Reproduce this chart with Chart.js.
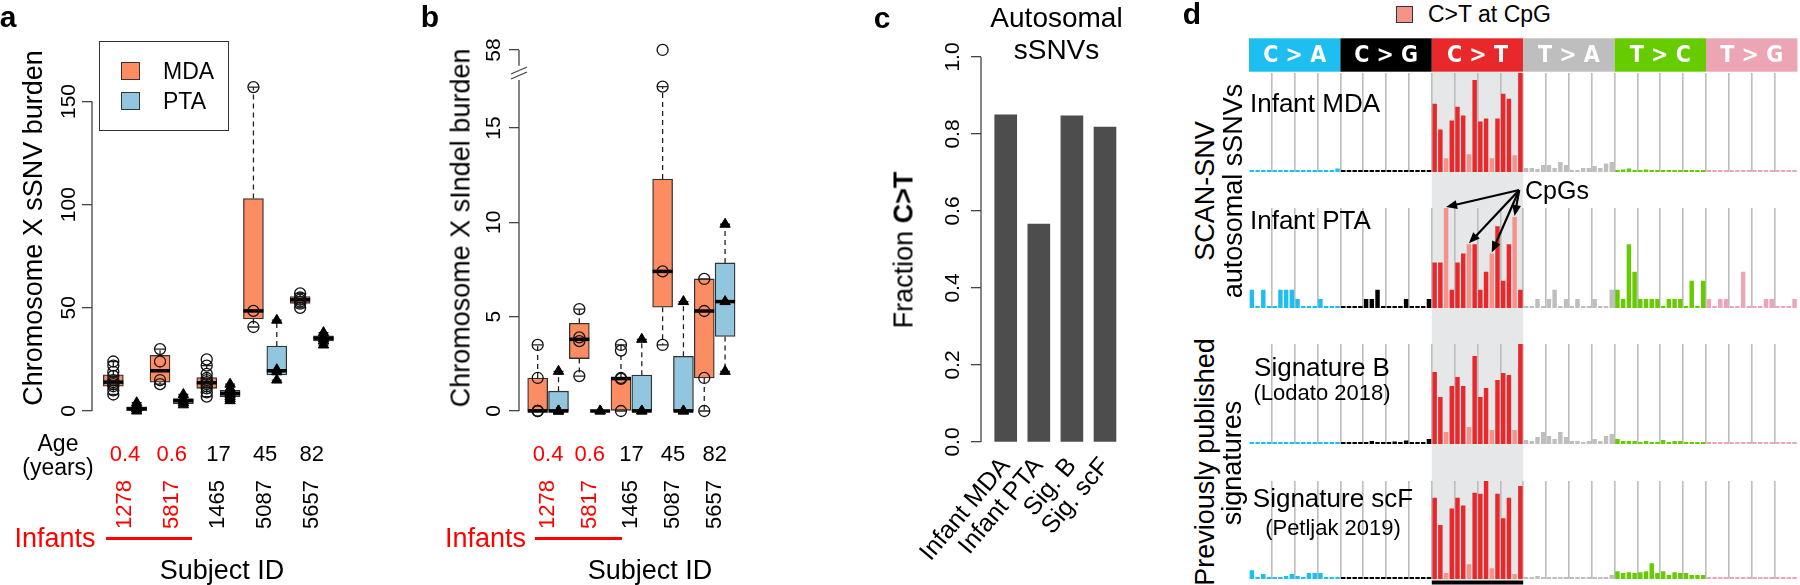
<!DOCTYPE html>
<html>
<head>
<meta charset="utf-8">
<script src="https://cdn.jsdelivr.net/npm/chart.js@4/dist/chart.umd.min.js"></script>
<style>
body { margin: 0; width: 1800px; height: 585px; background: #fff; position: relative; overflow: hidden; font-family: "Liberation Sans", Arial, sans-serif; }
canvas { position: absolute; }
.t { position: absolute; white-space: nowrap; line-height: 1; }
</style>
</head>
<body>
<canvas id="cA" width="400" height="585" style="left:0;top:0"></canvas>
<canvas id="cB" width="400" height="585" style="left:400px;top:0"></canvas>
<canvas id="cC" width="310" height="585" style="left:830px;top:0"></canvas>
<canvas id="d1" width="560" height="134" style="left:1240px;top:38px"></canvas>
<canvas id="d2" width="560" height="136" style="left:1240px;top:172px"></canvas>
<canvas id="d3" width="560" height="136" style="left:1240px;top:308px"></canvas>
<canvas id="d4" width="560" height="141" style="left:1240px;top:444px"></canvas>
<script>
Chart.defaults.font.family = "'Liberation Sans', Arial, sans-serif";
Chart.defaults.color = '#000';

// ---- panels a / b : subjects ----
const subjects = ['1278', '5817', '1465', '5087', '5657'];
const ages = ['0.4', '0.6', '17', '45', '82'];
const infant = [true, true, false, false, false];
const pairPos = [0.5, 2.5, 4.5, 6.5, 8.5];

// panel a, chrX sSNV burden; boxes ordered MDA, PTA for each subject
const snvLow  = [8, 0, 13, 3, 7, 5, 40.7, 15, 50, 32];
const snvQ1   = [12, 0, 14, 3.5, 11, 7, 44.6, 17.5, 52.2, 34];
const snvMed  = [14, 1, 19.5, 5, 13.7, 8.5, 48.5, 19.5, 53.9, 35.3];
const snvQ3   = [17.5, 2, 27, 6, 16.2, 10, 103, 31.5, 55.5, 36.4];
const snvHigh = [24, 4, 30, 8, 22, 13, 157, 44, 57, 38];
const snvPoints = [
  [8, 10, 12, 13, 14, 15, 17, 19, 22, 24], [0, 1, 2, 3, 4],
  [13, 15, 24, 30], [3, 4, 5, 6, 8],
  [7, 9, 11, 12, 13, 14, 15, 16, 18, 22, 25], [5, 6, 7, 8, 9, 10, 11, 13],
  [40.7, 48.5, 157], [15, 19, 20, 44],
  [50, 52, 53, 54, 55, 57], [32, 34, 35, 36, 38]
];
const snvTicks = [0, 50, 100, 150];

// panel b, chrX sIndel burden (axis broken between 15 and 58)
const indelLow  = [0, 0, 1.85, 0, 0, 0, 3.5, 0, 0, 2.1];
const indelQ1   = [0, 0, 2.78, 0, 0, 0, 5.5, 0, 1.75, 3.95];
const indelMed  = [0, 0, 3.8, 0, 1.72, 0, 7.4, 0, 5.3, 5.8];
const indelQ3   = [1.75, 1.05, 4.65, 0, 1.75, 1.9, 12.3, 2.9, 7.0, 7.85];
const indelHigh = [3.5, 2.1, 5.4, 0, 3.5, 3.8, 17.2, 5.8, 7.0, 9.9];
const indelPoints = [
  [0, 0, 0, 1.75, 3.5], [0, 0, 0, 2.1],
  [1.85, 3.7, 3.9, 5.4], [0, 0],
  [0, 1.7, 1.75, 3.2, 3.5], [0, 0, 3.8],
  [3.5, 7.4, 17.2, 58], [0, 0, 5.8],
  [0, 1.75, 5.3, 7.0], [2.1, 5.8, 9.9]
];
const indelTicks = [0, 5, 10, 15, 58];

// panel c
const sigNames = ['Infant MDA', 'Infant PTA', 'Sig. B', 'Sig. scF'];
const fracCT = [0.85, 0.566, 0.847, 0.818];
const fracTicks = [0, 0.2, 0.4, 0.6, 0.8, 1.0];

// panel d, 96-channel spectra (16 trinucleotide contexts per type)
const mutTypes = ['C>A', 'C>G', 'C>T', 'T>A', 'T>C', 'T>G'];
const mdaCA = [0.01, 0.005, 0.01, 0.01, 0.005, 0.01, 0.01, 0.01, 0.01, 0.01, 0.01, 0.01, 0.01, 0.015, 0.01, 0.035];
const mdaCG = [0.01, 0.01, 0.01, 0.01, 0.015, 0.005, 0.01, 0.02, 0.005, 0.005, 0.01, 0.01, 0.01, 0.02, 0.01, 0.01];
const mdaCT = [0.69, 0.43, 0.14, 0.52, 0.66, 0.57, 0.18, 0.93, 0.51, 0.54, 0.14, 0.54, 0.79, 0.74, 0.17, 1.0];
const mdaTA = [0.04, 0.04, 0.03, 0.07, 0.07, 0.04, 0.10, 0.07, 0.02, 0.02, 0.04, 0.04, 0.06, 0.04, 0.085, 0.10];
const mdaTC = [0.015, 0.025, 0.035, 0.015, 0.012, 0.025, 0.012, 0.008, 0.008, 0.005, 0.012, 0.012, 0.012, 0.02, 0.02, 0.012];
const mdaTG = [0.004, 0.004, 0.004, 0.004, 0.004, 0.004, 0.004, 0.004, 0.004, 0.004, 0.004, 0.004, 0.004, 0.004, 0.004, 0.004];
const ptaCA = [2, 0, 2, 0, 0, 2, 2, 2, 1, 0, 0, 0, 1, 0, 0, 0];
const ptaCG = [0, 0, 0, 0, 1, 1, 2, 0, 0, 0, 0, 1, 0, 0, 0, 1];
const ptaCT = [5, 5, 11, 2, 5, 6, 7, 7, 2, 4, 6, 9, 3, 7, 10, 2];
const ptaTA = [0, 0, 1, 0, 1, 2, 0, 1, 0, 1, 0, 0, 1, 0, 0, 2];
const ptaTC = [2, 1, 7, 4, 1, 1, 1, 1, 0, 1, 1, 1, 0, 3, 0, 3];
const ptaTG = [1, 0, 1, 1, 0, 0, 4, 0, 0, 0, 1, 1, 0, 0, 0, 1];
const sigBCA = [0.005, 0.005, 0.005, 0.015, 0.005, 0.005, 0.005, 0.005, 0.005, 0.005, 0.005, 0.005, 0.005, 0.005, 0.005, 0.005];
const sigBCG = [0.005, 0.01, 0.005, 0.015, 0.005, 0.03, 0.005, 0.015, 0.005, 0.025, 0.005, 0.035, 0.005, 0.015, 0.01, 0.05];
const sigBCT = [0.72, 0.47, 0.12, 0.58, 0.67, 0.58, 0.17, 0.88, 0.47, 0.56, 0.14, 0.64, 0.71, 0.69, 0.14, 1.0];
const sigBTA = [0.04, 0.03, 0.07, 0.12, 0.08, 0.05, 0.12, 0.07, 0.03, 0.03, 0.02, 0.03, 0.05, 0.03, 0.08, 0.10];
const sigBTC = [0.05, 0.03, 0.03, 0.03, 0.01, 0.03, 0.02, 0.02, 0.04, 0.01, 0.03, 0.03, 0.02, 0.02, 0.01, 0.01];
const sigBTG = [0.004, 0.004, 0.004, 0.004, 0.004, 0.008, 0.004, 0.004, 0.004, 0.004, 0.004, 0.004, 0.008, 0.004, 0.004, 0.004];
const scFCA = [0.09, 0.02, 0.05, 0.02, 0.02, 0.02, 0.03, 0.05, 0.03, 0.02, 0.06, 0.06, 0.06, 0.01, 0.005, 0.005];
const scFCG = [0.005, 0.005, 0.01, 0.005, 0.005, 0.015, 0.005, 0.005, 0.005, 0.005, 0.005, 0.005, 0.01, 0.005, 0.005, 0.005];
const scFCT = [0.83, 0.55, 0.06, 0.72, 0.83, 0.75, 0.15, 0.88, 0.87, 1.0, 0.11, 0.87, 0.62, 0.83, 0.05, 0.95];
const scFTA = [0.005, 0.005, 0.03, 0.005, 0.02, 0.02, 0.02, 0.005, 0.005, 0.005, 0.02, 0.01, 0.005, 0.005, 0.005, 0.04];
const scFTC = [0.08, 0.06, 0.07, 0.06, 0.07, 0.08, 0.16, 0.06, 0.08, 0.04, 0.07, 0.06, 0.06, 0.04, 0.04, 0.04];
const scFTG = [0.004, 0.004, 0.004, 0.004, 0.004, 0.004, 0.004, 0.004, 0.004, 0.004, 0.004, 0.004, 0.004, 0.004, 0.004, 0.004];
const cpgIdx = [2, 6, 10, 14];

const MDA_COL = '#FC8D62', PTA_COL = '#92C5DE', RED = '#FF0000';
const typeCols = ['#1EBFF0', '#000000', '#E8282B', '#BEBEBE', '#66CC00', '#EBA5B4'];
const CPG_COL = '#F5938A';

// html text helper
function txt(html, x, y, size, o = {}) {
  const d = document.createElement('div');
  d.className = 't';
  d.innerHTML = html;
  const ax = o.left ? '0' : '-50%';
  d.style.left = x + 'px';
  d.style.top = y + 'px';
  d.style.fontSize = size + 'px';
  d.style.color = o.color || '#000';
  if (o.bold) d.style.fontWeight = 'bold';
  d.style.transform = 'translate(' + ax + ',-50%)' + (o.rot ? ' rotate(' + o.rot + 'deg)' : '');
  document.body.appendChild(d);
}
function rect(x, y, w, h, css) {
  const d = document.createElement('div');
  d.style.cssText = 'position:absolute;left:' + x + 'px;top:' + y + 'px;width:' + w + 'px;height:' + h + 'px;' + css;
  document.body.appendChild(d);
}

// whiskers, staples and medians of the boxplots
function boxPlugin(low, q1, med, q3, high, f) {
  return {
    id: 'boxes',
    beforeDatasetsDraw(chart) {
      const { ctx, scales: { x, y } } = chart;
      ctx.save();
      ctx.strokeStyle = '#222';
      ctx.lineWidth = 1.3;
      low.forEach((lo, k) => {
        const cx = x.getPixelForValue(k);
        ctx.setLineDash([5, 4]);
        ctx.beginPath();
        ctx.moveTo(cx, y.getPixelForValue(f(q3[k])));
        ctx.lineTo(cx, y.getPixelForValue(f(high[k])));
        ctx.moveTo(cx, y.getPixelForValue(f(q1[k])));
        ctx.lineTo(cx, y.getPixelForValue(f(lo)));
        ctx.stroke();
        ctx.setLineDash([]);
        ctx.beginPath();
        [lo, high[k]].forEach(v => {
          const py = y.getPixelForValue(f(v));
          ctx.moveTo(cx - 5, py);
          ctx.lineTo(cx + 5, py);
        });
        ctx.stroke();
      });
      ctx.restore();
    },
    afterDatasetDraw(chart, args) {
      if (args.index !== 0) return;
      const { ctx, scales: { x, y } } = chart;
      ctx.save();
      ctx.strokeStyle = '#000';
      ctx.lineWidth = 3.5;
      med.forEach((m, k) => {
        const cx = x.getPixelForValue(k), py = y.getPixelForValue(f(m));
        ctx.beginPath();
        ctx.moveTo(cx - 10, py);
        ctx.lineTo(cx + 10, py);
        ctx.stroke();
      });
      ctx.restore();
    }
  };
}

// R style y axis line, running only between first and last tick (optionally broken)
function rAxis(segs, slashAt) {
  return {
    id: 'rAxis',
    afterDraw(chart) {
      const { ctx, chartArea: ca, scales: { y } } = chart;
      ctx.save();
      ctx.strokeStyle = '#444';
      ctx.lineWidth = 1.3;
      ctx.beginPath();
      segs.forEach(s => {
        ctx.moveTo(ca.left, y.getPixelForValue(s[0]));
        ctx.lineTo(ca.left, y.getPixelForValue(s[1]));
      });
      if (slashAt != null) {
        const py = y.getPixelForValue(slashAt);
        [-2.5, 2.5].forEach(d => {
          ctx.moveTo(ca.left - 8, py + d + 3.5);
          ctx.lineTo(ca.left + 8, py + d - 3.5);
        });
      }
      ctx.stroke();
      ctx.restore();
    }
  };
}

// age row under the subject axis
const agePlugin = {
  id: 'ages',
  afterDraw(chart) {
    const { ctx, scales: { x } } = chart;
    ctx.save();
    ctx.font = "22px 'Liberation Sans', Arial";
    ctx.textAlign = 'center';
    ctx.textBaseline = 'middle';
    ages.forEach((a, i) => {
      ctx.fillStyle = infant[i] ? RED : '#000';
      ctx.fillText(a, x.getPixelForValue(pairPos[i]), 455);
    });
    ctx.restore();
  }
};

function boxChart(id, o) {
  const f = o.f;
  const ks = o.low.map((_, k) => k);
  const pts = (odd) => o.points.flatMap((p, k) => (k % 2 === odd) ? p.map(v => ({ x: k, y: f(v) })) : []);
  return new Chart(document.getElementById(id), {
    type: 'bar',
    data: {
      datasets: [
        {
          data: ks.map(k => ({ x: k, y: [f(o.q1[k]), f(o.q3[k])] })),
          backgroundColor: ks.map(k => k % 2 ? PTA_COL : MDA_COL),
          borderColor: '#333', borderWidth: 1.3, borderSkipped: false,
          barThickness: 20, order: 3
        },
        {
          type: 'scatter', data: pts(0), pointStyle: 'circle', pointRadius: 5.5,
          borderColor: '#111', borderWidth: 1.3, backgroundColor: 'rgba(0,0,0,0)', order: 1
        },
        {
          type: 'scatter', data: pts(1), pointStyle: 'triangle', pointRadius: 6,
          borderColor: '#000', borderWidth: 1, backgroundColor: '#000', order: 1
        }
      ]
    },
    options: {
      responsive: false, animation: false,
      layout: { padding: o.pad },
      plugins: { legend: { display: false }, tooltip: { enabled: false } },
      scales: {
        x: {
          type: 'linear', min: o.xmin, max: o.xmax, offset: false,
          afterFit: s => { s.height = o.xh; },
          afterBuildTicks: s => { s.ticks = pairPos.map(v => ({ value: v })); },
          grid: { display: false, drawTicks: false }, border: { display: false },
          ticks: {
            autoSkip: false, minRotation: 90, maxRotation: 90, padding: o.idPad,
            font: { size: 22 }, color: c => infant[c.index] ? RED : '#000',
            callback: (v, i) => subjects[i]
          }
        },
        y: {
          min: o.ymin, max: o.ymax,
          afterFit: s => { s.width = 60; },
          afterBuildTicks: s => { s.ticks = o.ticks.map(v => ({ value: f(v) })); },
          grid: { drawOnChartArea: false, tickLength: 10, color: '#444', lineWidth: 1.3 },
          border: { display: false },
          ticks: {
            autoSkip: false, minRotation: 90, maxRotation: 90, crossAlign: 'center',
            padding: o.tickPad, font: { size: 21 },
            callback: (v, i) => String(o.ticks[i])
          }
        }
      }
    },
    plugins: [boxPlugin(o.low, o.q1, o.med, o.q3, o.high, f), rAxis(o.segs, o.slash), agePlugin]
  });
}

// ---- panel a ----
boxChart('cA', {
  low: snvLow, q1: snvQ1, med: snvMed, q3: snvQ3, high: snvHigh, points: snvPoints,
  ticks: snvTicks, f: v => v, ymin: -6.3, ymax: 164.3,
  xmin: -0.913, xmax: 10.5, xh: 161, idPad: 56, tickPad: -5,
  pad: { left: 32, right: 33, top: 72, bottom: 0 },
  segs: [[0, 150]]
});

// ---- panel b ----
const brk = v => v > 19 ? 19.14 + (v - 58) * 0.02 : v;
boxChart('cB', {
  low: indelLow, q1: indelQ1, med: indelMed, q3: indelQ3, high: indelHigh, points: indelPoints,
  ticks: indelTicks, f: brk, ymin: -0.6, ymax: 19.7,
  xmin: -0.897, xmax: 10.5, xh: 162.7, idPad: 57.7, tickPad: 3,
  pad: { left: 59, right: 5.2, top: 39.4, bottom: 0 },
  segs: [[0, 17.55], [18.3, 19.14]], slash: 17.92
});

// ---- panel c ----
new Chart(document.getElementById('cC'), {
  type: 'bar',
  data: { datasets: [{ data: fracCT.map((v, k) => ({ x: k, y: v })), backgroundColor: '#4D4D4D', barThickness: 22 }] },
  options: {
    responsive: false, animation: false,
    layout: { padding: { left: 91, right: 14.7, top: 57, bottom: 0 } },
    plugins: { legend: { display: false }, tooltip: { enabled: false } },
    scales: {
      x: {
        type: 'linear', min: -0.747, max: 3.6, offset: false,
        afterFit: s => { s.height = 143; },
        afterBuildTicks: s => { s.ticks = sigNames.map((_, k) => ({ value: k })); },
        grid: { display: false, drawTicks: false }, border: { display: false },
        ticks: { autoSkip: false, minRotation: 50, maxRotation: 50, padding: 10, font: { size: 25 }, callback: (v, i) => sigNames[i] }
      },
      y: {
        min: 0, max: 1,
        afterFit: s => { s.width = 60; },
        afterBuildTicks: s => { s.ticks = fracTicks.map(v => ({ value: v })); },
        grid: { drawOnChartArea: false, tickLength: 10, color: '#444', lineWidth: 1.3 },
        border: { display: false },
        ticks: { autoSkip: false, minRotation: 90, maxRotation: 90, crossAlign: 'center', padding: 3, font: { size: 21 }, callback: v => v.toFixed(1) }
      }
    }
  },
  plugins: [rAxis([[0, 1]])]
});

// ---- panel d ----
const bases = ['A', 'C', 'G', 'T'];
const ctxLabels = mutTypes.flatMap(t => bases.flatMap(b5 => bases.map(b3 => b5 + '[' + t + ']' + b3)));
const barCols = ctxLabels.map((_, i) => {
  const t = Math.floor(i / 16);
  return (t === 2 && cpgIdx.includes(i % 16)) ? CPG_COL : typeCols[t];
});

function ctRange(x) {
  const half = (x.getPixelForValue(1) - x.getPixelForValue(0)) / 2;
  return [x.getPixelForValue(32) - half, x.getPixelForValue(47) + half, half];
}

function rowChart(id, vals, o) {
  const extra = {
    id: 'rowDeco',
    beforeDraw(chart) {
      const { ctx, chartArea: ca, scales: { x } } = chart;
      const [xl, xr] = ctRange(x);
      ctx.save();
      ctx.fillStyle = '#E6E7E8';
      ctx.fillRect(xl, o.bgTop, xr - xl, ca.bottom - o.bgTop + 1);
      ctx.restore();
    },
    afterDatasetsDraw(chart) {
      if (o.after) o.after(chart);
    }
  };
  return new Chart(document.getElementById(id), {
    type: 'bar',
    data: {
      labels: ctxLabels,
      datasets: [{ data: vals, backgroundColor: barCols, barPercentage: 0.78, categoryPercentage: 1, minBarLength: 2 }]
    },
    options: {
      responsive: false, animation: false,
      layout: { padding: { left: 9, right: 2.6, top: o.top, bottom: o.bottom || 0 } },
      plugins: { legend: { display: false }, tooltip: { enabled: false } },
      scales: {
        x: {
          afterFit: s => { s.height = 0; },
          grid: {
            offset: true, drawTicks: false, lineWidth: 1.6,
            color: c => (c.index % 4 === 0 && c.index > 0 && c.index < 96) ? '#BDBDBD' : 'rgba(0,0,0,0)'
          },
          ticks: { display: false, autoSkip: false }, border: { display: false }
        },
        y: { display: false, min: 0, max: Math.max(...vals) }
      }
    },
    plugins: [extra]
  });
}

// header strip of mutation classes on the first row
function drawHeader(chart) {
  const { ctx, scales: { x } } = chart;
  const half = (x.getPixelForValue(1) - x.getPixelForValue(0)) / 2;
  ctx.save();
  mutTypes.forEach((t, k) => {
    const x0 = x.getPixelForValue(16 * k) - half, x1 = x.getPixelForValue(16 * k + 15) + half;
    ctx.fillStyle = typeCols[k];
    ctx.fillRect(x0, 0.3, x1 - x0, 33.4);
    ctx.fillStyle = '#fff';
    ctx.font = "bold 23px 'DejaVu Sans Condensed', 'Liberation Sans Narrow', Arial";
    ctx.textAlign = 'center';
    ctx.textBaseline = 'middle';
    ctx.fillText(t.replace('>', ' > '), (x0 + x1) / 2, 18);
  });
  ctx.restore();
}

function arrow(ctx, x0, y0, x1, y1) {
  const a = Math.atan2(y1 - y0, x1 - x0), L = 11, W = 4.5;
  ctx.beginPath();
  ctx.moveTo(x0, y0);
  ctx.lineTo(x1 - L * 0.8 * Math.cos(a), y1 - L * 0.8 * Math.sin(a));
  ctx.stroke();
  ctx.beginPath();
  ctx.moveTo(x1, y1);
  ctx.lineTo(x1 - L * Math.cos(a) + W * Math.sin(a), y1 - L * Math.sin(a) - W * Math.cos(a));
  ctx.lineTo(x1 - L * Math.cos(a) - W * Math.sin(a), y1 - L * Math.sin(a) + W * Math.cos(a));
  ctx.closePath();
  ctx.fill();
}

const mdaRow = [...mdaCA, ...mdaCG, ...mdaCT, ...mdaTA, ...mdaTC, ...mdaTG];
const ptaRow = [...ptaCA, ...ptaCG, ...ptaCT, ...ptaTA, ...ptaTC, ...ptaTG];
const sigBRow = [...sigBCA, ...sigBCG, ...sigBCT, ...sigBTA, ...sigBTC, ...sigBTG];
const scFRow = [...scFCA, ...scFCG, ...scFCT, ...scFTA, ...scFTC, ...scFTG];

rowChart('d1', mdaRow, { top: 35, bgTop: 34, after: drawHeader });
rowChart('d2', ptaRow, {
  top: 36, bgTop: 0,
  after(chart) {
    const { ctx, chartArea: ca, scales: { x, y } } = chart;
    const [, xr] = ctRange(x);
    ctx.save();
    ctx.strokeStyle = '#000';
    ctx.fillStyle = '#000';
    ctx.lineWidth = 2.2;
    cpgIdx.forEach(i => {
      const idx = 32 + i;
      arrow(ctx, xr - 4, ca.top - 18, x.getPixelForValue(idx), y.getPixelForValue(ptaRow[idx]) - 1);
    });
    ctx.restore();
  }
});
rowChart('d3', sigBRow, { top: 36, bgTop: 0 });
rowChart('d4', scFRow, {
  top: 37, bottom: 6, bgTop: 0,
  after(chart) {
    const { ctx, chartArea: ca, scales: { x } } = chart;
    const [xl, xr] = ctRange(x);
    ctx.save();
    ctx.fillStyle = '#000';
    ctx.fillRect(xl, ca.bottom + 1.5, xr - xl, 4);
    ctx.restore();
  }
});

// ---- text annotations ----
// panel a
txt('a', 8, 17, 30, { bold: true });
txt('Chromosome X sSNV burden', 32.5, 228, 27, { rot: -90 });
rect(99, 41, 128, 88, 'border:1.5px solid #333;');
rect(121, 62, 17, 16, 'background:' + MDA_COL + ';border:1.3px solid #333;');
rect(121, 92, 17, 16, 'background:' + PTA_COL + ';border:1.3px solid #333;');
txt('MDA', 163, 71, 23, { left: true });
txt('PTA', 163, 101, 23, { left: true });
txt('Age', 58, 443, 23);
txt('(years)', 58, 467, 23);
txt('Infants', 55, 538, 27, { color: RED });
rect(106, 536.5, 86, 3, 'background:' + RED + ';');
txt('Subject ID', 222, 570, 27);
// panel b
txt('b', 430, 17, 30, { bold: true });
txt('Chromosome X sIndel burden', 461, 228, 27, { rot: -90 });
txt('Infants', 485.5, 538, 27, { color: RED });
rect(535, 536.5, 87, 3, 'background:' + RED + ';');
txt('Subject ID', 650, 570, 27);
// panel c
txt('c', 882, 18, 30, { bold: true });
txt('Autosomal', 1056.5, 18, 28);
txt('sSNVs', 1056.5, 50, 28);
txt('Fraction <b>C&gt;T</b>', 904, 250, 27, { rot: -90 });
// panel d
txt('d', 1192, 14, 30, { bold: true });
rect(1396, 6, 15, 15, 'background:' + CPG_COL + ';border:1.3px solid #333;');
txt('C&gt;T at CpG', 1428, 14, 23, { left: true });
txt('SCAN-SNV', 1205, 191, 27, { rot: -90 });
txt('autosomal sSNVs', 1233, 191, 27, { rot: -90 });
txt('Previously published', 1205, 462, 27, { rot: -90 });
txt('signatures', 1232, 463, 27, { rot: -90 });
txt('Infant MDA', 1250, 103, 26, { left: true });
txt('Infant PTA', 1250, 220, 26, { left: true });
txt('CpGs', 1525, 190, 25, { left: true });
txt('Signature B', 1322, 367, 26);
txt('(Lodato 2018)', 1322, 393, 22);
txt('Signature scF', 1333, 498, 26);
txt('(Petljak 2019)', 1333, 528, 22);
</script>
</body>
</html>
